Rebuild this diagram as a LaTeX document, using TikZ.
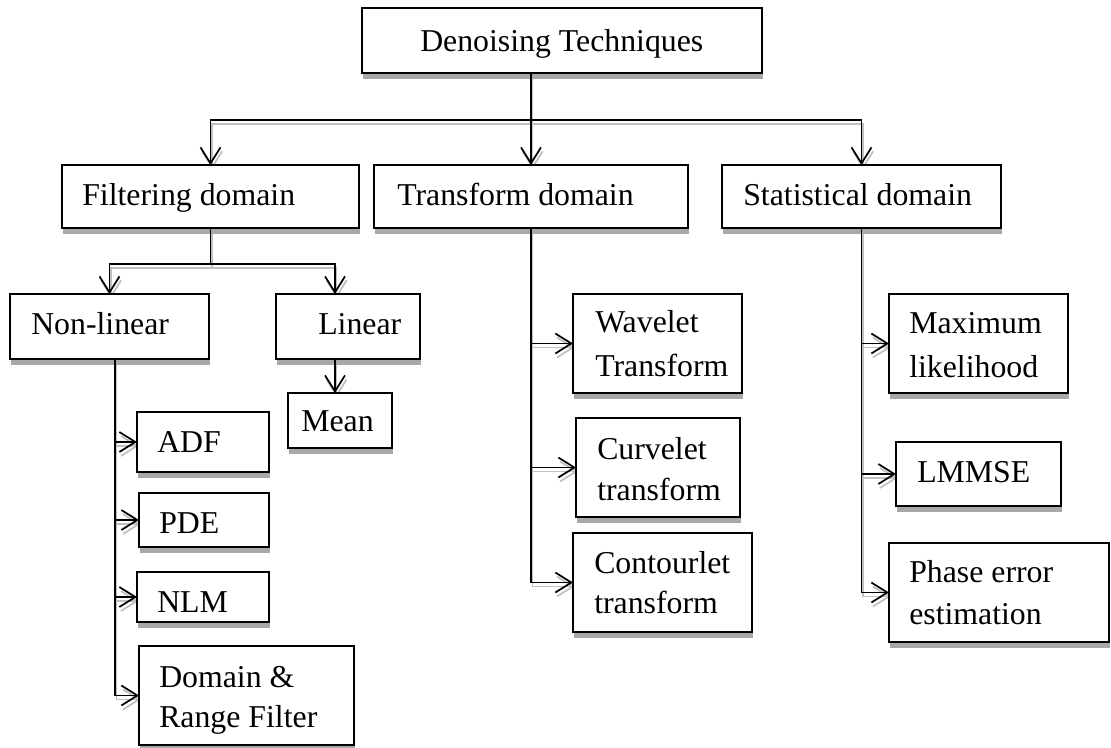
\documentclass[tikz,border=0pt]{standalone}
\usepackage{fontspec}
\setmainfont{Liberation Serif}
\usetikzlibrary{arrows.meta,shadows}
\definecolor{shd}{RGB}{168,168,168}
\definecolor{lshd}{RGB}{192,192,192}
\pgfdeclarelayer{bg}
\pgfsetlayers{bg,main}
\newcommand\bx[5]{\node[box, minimum width={(#4-#2)*0.75pt}, minimum height={(#5-#3)*0.75pt}] (#1) at ({(#2+#4)/2},{(#3+#5)/2}) {};}
\newcommand\tx[4]{\node[txt] (#1) at (#2,#3) {#4};}
\newcommand\wires{%
  \draw[cn,->] (top.south -| tr.north) -- (tr.north);
  \draw[cn,<->] (fi.north) |- (tr.north |- h1) -| (st.north);
  \draw[cn] (fi.south) -- (fi.south |- h2);
  \draw[cn,<->] (nl.north) |- (lx |- h2) -- (lx |- li.north);
  \draw[cn,->] (lx |- li.south) -- (lx |- me.north);
  \draw[cn,->] (nx |- nl.south) |- (dr.west);
  \draw[cn,->] (nx |- adf.west) -- (adf.west);
  \draw[cn,->] (nx |- pde.west) -- (pde.west);
  \draw[cn,->] (nx |- nlm.west) -- (nlm.west);
  \draw[cn,->] (tr.south) |- (co.west);
  \draw[cn,->] (tr.south |- wa.west) -- (wa.west);
  \draw[cn,->] (tr.south |- cu.west) -- (cu.west);
  \draw[cn,->] (st.south) |- (ph.west);
  \draw[cn,->] (st.south |- ml.west) -- (ml.west);
  \draw[cn,->] (st.south |- lm.west) -- (lm.west);
}
\begin{document}
\begin{tikzpicture}[x=0.75pt,y=-0.75pt,
  box/.style={draw, line width=1pt, fill=white, inner sep=0pt, outer sep=0pt,
    drop shadow={shadow xshift=0.8pt, shadow yshift=-4.5pt, fill=shd, opacity=1}},
  txt/.style={anchor=base west, inner sep=0pt, font=\fontsize{23.85}{28}\selectfont},
  >={Straight Barb[length=12pt,width=15pt]},
  cn/.style={draw=black, line width=1.3pt}]
\useasboundingbox (0,0) rectangle (1111,747);
% boxes
\bx{top}{362}{8}{762}{73}
\bx{fi}{62}{165}{359}{228}
\bx{tr}{374}{165}{688}{228}
\bx{st}{722}{165}{1001}{228}
\bx{nl}{10}{294}{209}{359}
\bx{li}{276}{294}{420}{359}
\bx{me}{288}{393}{392}{448}
\bx{adf}{137}{412}{269}{472}
\bx{pde}{139}{493}{269}{547}
\bx{nlm}{137}{572}{269}{622}
\bx{dr}{139}{646}{354}{745}
\bx{wa}{573}{294}{742}{393}
\bx{cu}{576}{418}{740}{517}
\bx{co}{573}{533}{752}{632}
\bx{ml}{889}{294}{1068}{393}
\bx{lm}{896}{442}{1061}{506}
\bx{ph}{889}{543}{1109}{642}
% texts
\tx{t0}{420}{51}{Denoising Techniques}
\tx{t1}{82}{205}{Filtering domain}
\tx{t2}{397}{205}{Transform domain}
\tx{t3}{743}{205}{Statistical domain}
\tx{t4}{31}{334}{Non-linear}
\tx{t5}{318}{334}{Linear}
\tx{t6}{301}{431}{Mean}
\tx{t7}{157}{452}{ADF}
\tx{t8}{159}{533}{PDE}
\tx{t9}{157}{612}{NLM}
\tx{t10}{159}{687}{Domain \&}
\tx{t11}{159}{727}{Range Filter}
\tx{t12}{595}{332}{Wavelet}
\tx{t13}{595}{376}{Transform}
\tx{t14}{597}{459}{Curvelet}
\tx{t15}{597}{500}{transform}
\tx{t16}{594}{573}{Contourlet}
\tx{t17}{594}{613}{transform}
\tx{t18}{909}{333}{Maximum}
\tx{t19}{909}{377}{likelihood}
\tx{t20}{917}{482}{LMMSE}
\tx{t21}{909}{582}{Phase error}
\tx{t22}{909}{624}{estimation}
% helper coordinates
\coordinate (h1) at (0,120);
\coordinate (h2) at (0,264);
\coordinate (lx) at (335,0);
\coordinate (nx) at (115,0);
% connector shadows
\begin{pgfonlayer}{bg}
\begin{scope}[transform canvas={shift={(1.2pt,-3pt)}}, cn/.style={draw=lshd, line width=1.3pt}]
\wires
\end{scope}
\end{pgfonlayer}
% connectors
\wires
\end{tikzpicture}
\end{document}
